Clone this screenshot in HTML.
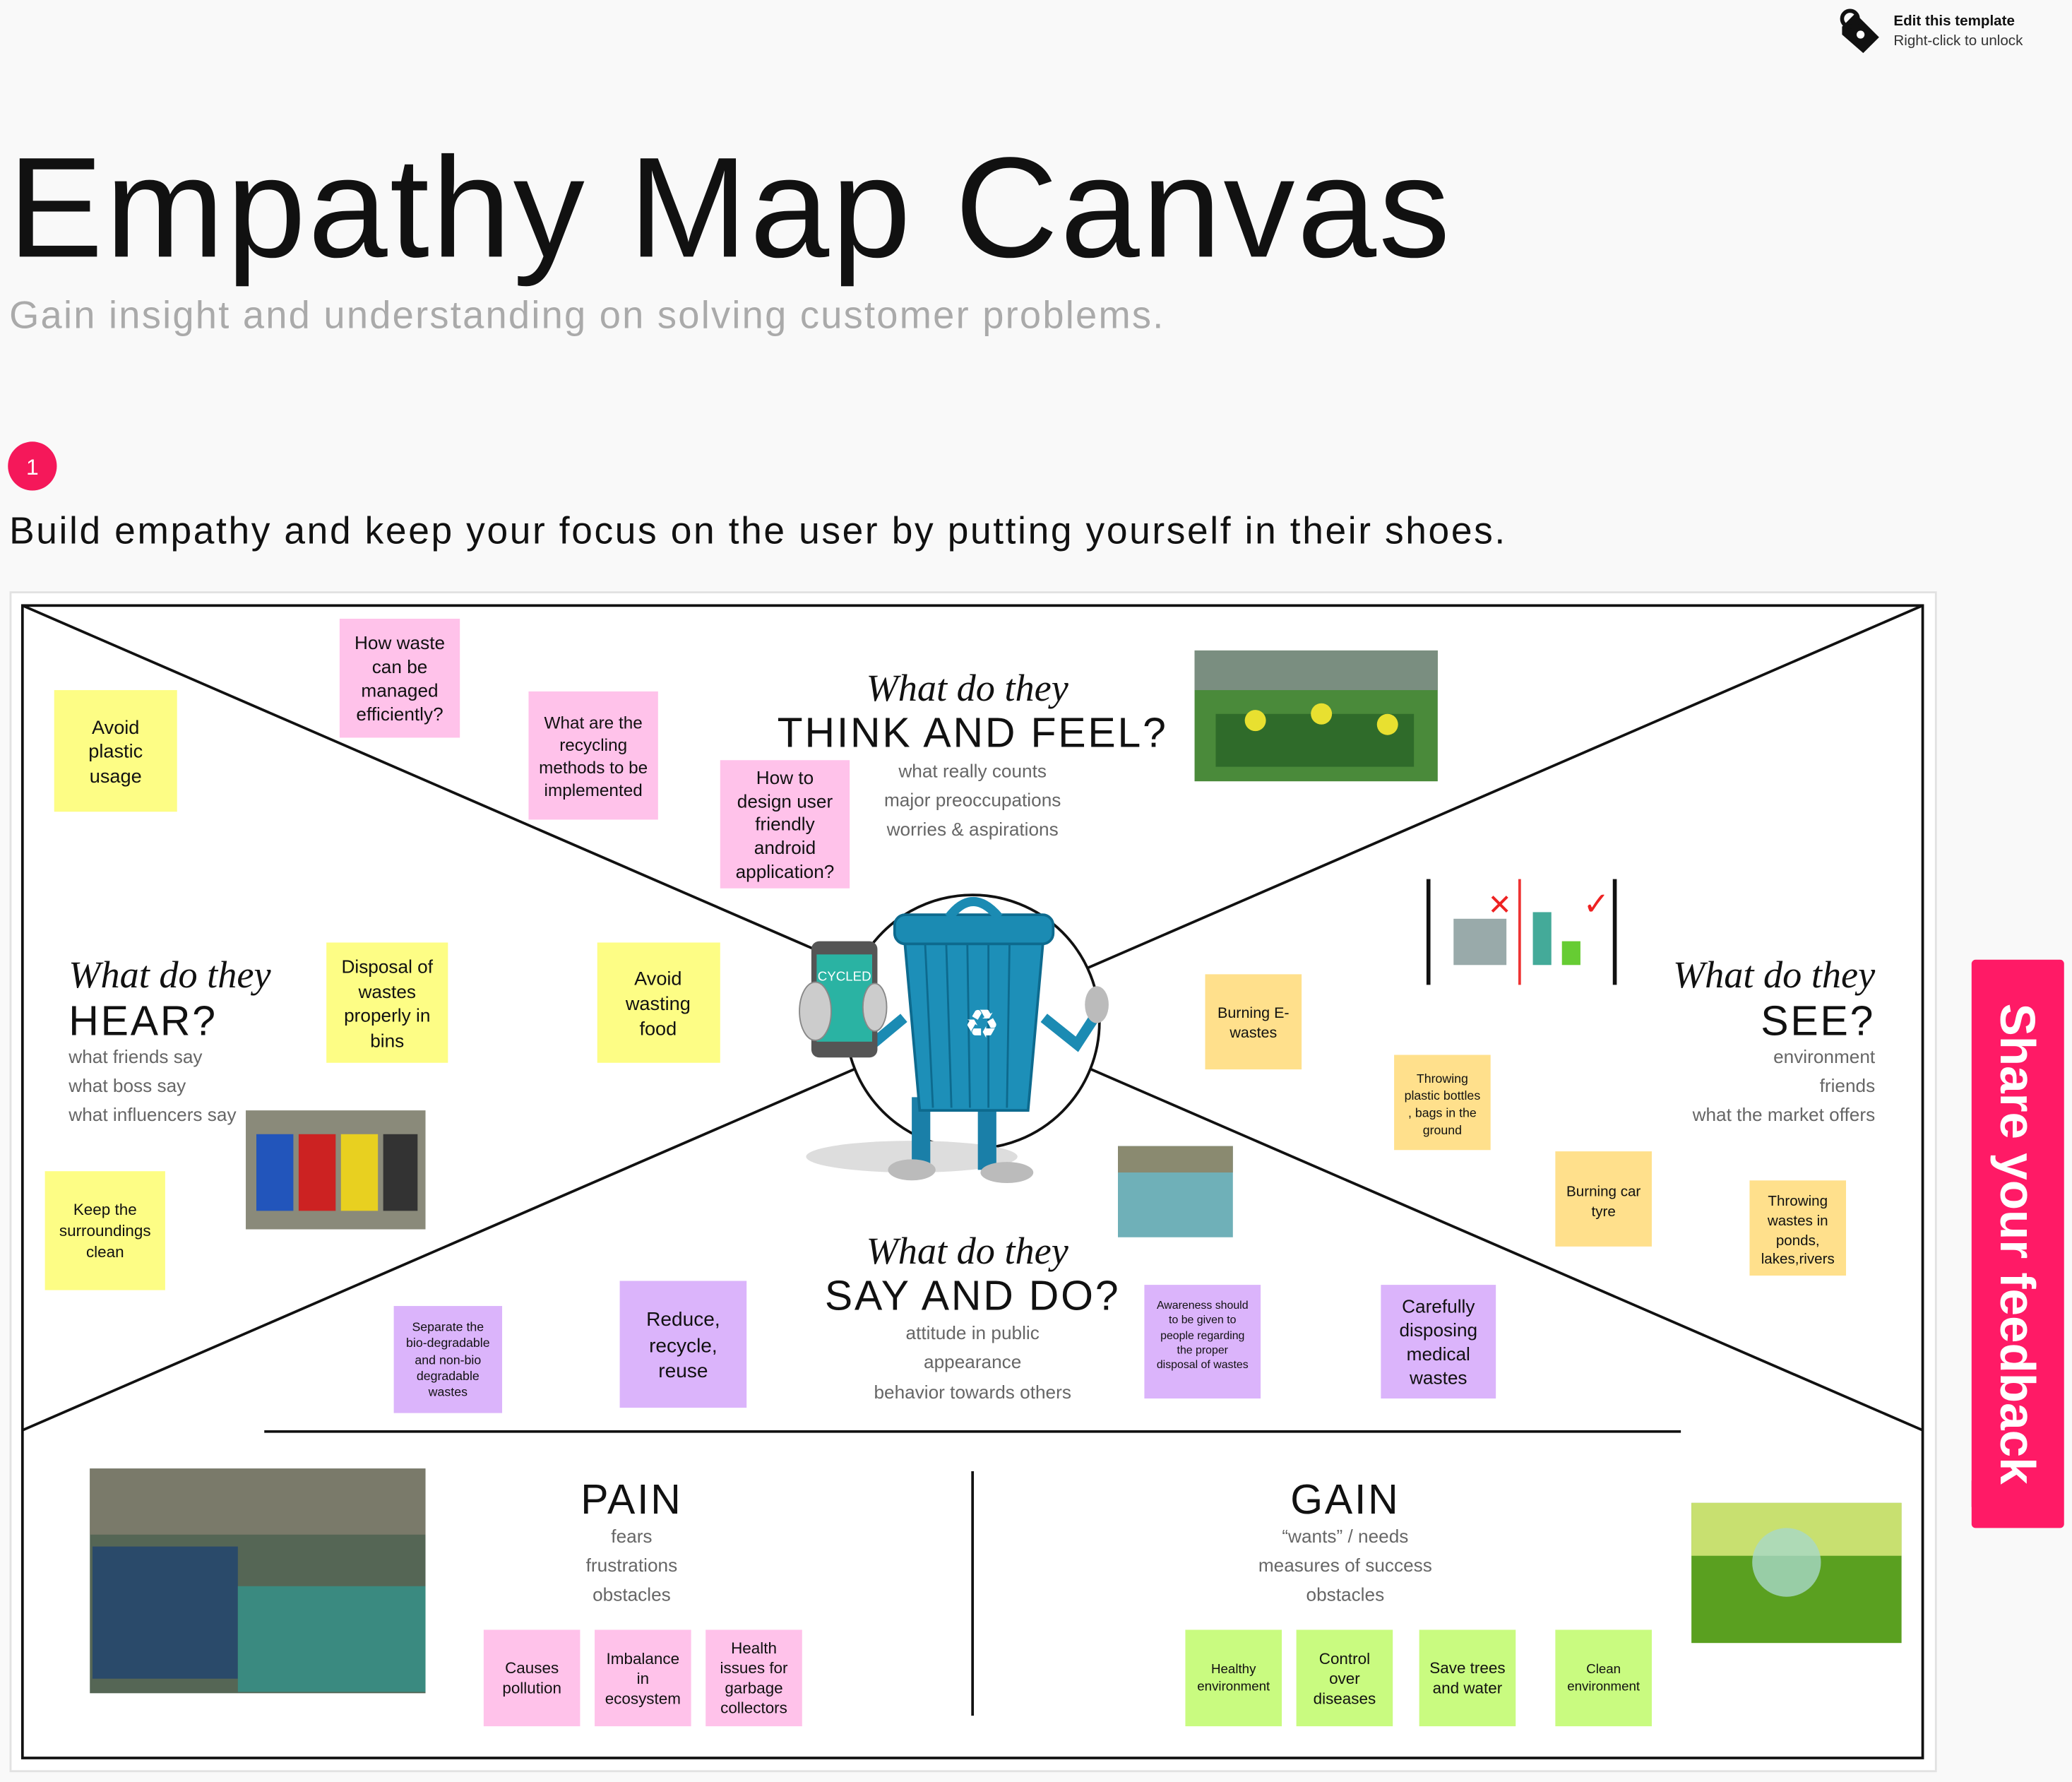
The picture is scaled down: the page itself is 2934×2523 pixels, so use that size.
<!DOCTYPE html>
<html><head><meta charset="utf-8">
<style>
html,body{margin:0;padding:0;background:#f9f9f9;}
body{width:2934px;height:2523px;overflow:hidden;}
svg{display:block;}
text{font-family:"Liberation Sans",sans-serif;}
.st{font-family:"Liberation Sans",sans-serif;fill:#111;text-anchor:middle;}
.sub{font-size:14px;fill:#666;}
.scr{font-family:"Liberation Serif",serif;font-style:italic;font-size:29px;fill:#111;}
.big{font-size:31.5px;fill:#111;letter-spacing:1.5px;}
</style></head>
<body>
<svg width="2934" height="2523" viewBox="0 0 1568 1348" xmlns="http://www.w3.org/2000/svg">
<rect x="0" y="0" width="1568" height="1348" fill="#f9f9f9"/>
<!-- lock -->
<g transform="translate(1390,6)">
<path d="M4 14 L14 4 L24 14 L32 22 L20 34 L4 20 Z" fill="#111"/>
<circle cx="10" cy="8" r="6" fill="none" stroke="#111" stroke-width="3"/>
<circle cx="18" cy="20" r="3" fill="#fff"/>
</g>
<text x="1433" y="19" font-size="11" font-weight="bold" fill="#111">Edit this template</text>
<text x="1433" y="34" font-size="11" fill="#333">Right-click to unlock</text>

<text x="6" y="194" font-size="108" fill="#111" letter-spacing="1.7">Empathy Map Canvas</text>
<text x="7" y="248" font-size="29" fill="#aaa" letter-spacing="1.2">Gain insight and understanding on solving customer problems.</text>
<circle cx="24.5" cy="352.5" r="18.5" fill="#f5185a"/>
<text x="24.5" y="359" font-size="17" fill="#fff" text-anchor="middle">1</text>
<text x="7" y="411" font-size="28.5" fill="#111" letter-spacing="1.4">Build empathy and keep your focus on the user by putting yourself in their shoes.</text>

<!-- panel -->
<rect x="8" y="448" width="1457" height="892" fill="#fff" stroke="#e2e2e2" stroke-width="1.5"/>
<rect x="17" y="458" width="1438" height="872" fill="#fff" stroke="#111" stroke-width="2"/>
<line x1="17" y1="458" x2="1455" y2="1082" stroke="#111" stroke-width="2"/>
<line x1="1455" y1="458" x2="17" y2="1082" stroke="#111" stroke-width="2"/>
<line x1="200" y1="1083" x2="1272" y2="1083" stroke="#111" stroke-width="2"/>
<line x1="736" y1="1113" x2="736" y2="1298" stroke="#111" stroke-width="2"/>
<circle cx="736" cy="773" r="96" fill="#fff" stroke="#111" stroke-width="2"/>

<!-- mascot -->
<ellipse cx="690" cy="875" rx="80" ry="12" fill="#ddd"/>
<rect x="690" y="830" width="14" height="55" fill="#1a7fa8"/><rect x="740" y="830" width="14" height="55" fill="#1a7fa8"/>
<ellipse cx="690" cy="885" rx="18" ry="8" fill="#bbb"/><ellipse cx="762" cy="887" rx="20" ry="8" fill="#bbb"/>
<path d="M684 705 L790 705 L778 840 L696 840 Z" fill="#1d8fb8" stroke="#0d6a8e" stroke-width="2"/>
<g stroke="#0d6a8e" stroke-width="1.5"><line x1="700" y1="712" x2="706" y2="838"/><line x1="716" y1="712" x2="720" y2="838"/><line x1="732" y1="712" x2="734" y2="838"/><line x1="748" y1="712" x2="748" y2="838"/><line x1="764" y1="712" x2="762" y2="838"/></g>
<rect x="677" y="692" width="120" height="22" rx="8" fill="#1b8bb3" stroke="#0d6a8e" stroke-width="2"/>
<path d="M718 694 Q736 670 756 694" fill="none" stroke="#1b8bb3" stroke-width="7"/>
<text x="743" y="785" font-size="30" fill="#fff" text-anchor="middle">♻</text>
<path d="M790 770 L815 790 L828 770" fill="none" stroke="#1b8bb3" stroke-width="8"/>
<ellipse cx="830" cy="760" rx="9" ry="14" fill="#bbb"/>
<path d="M684 770 L660 790" stroke="#1b8bb3" stroke-width="8"/>
<rect x="614" y="712" width="50" height="88" rx="6" fill="#555"/>
<rect x="618" y="722" width="42" height="66" fill="#2ab3a3"/>
<text x="639" y="742" font-size="10" fill="#fff" text-anchor="middle">CYCLED</text>
<ellipse cx="617" cy="765" rx="12" ry="22" fill="#ccc" stroke="#888"/>
<ellipse cx="662" cy="762" rx="9" ry="18" fill="#ccc" stroke="#888"/>

<!-- images -->
<rect x="904" y="492" width="184" height="99" fill="#4a8a3a"/>
<rect x="904" y="492" width="184" height="30" fill="#7a8e80"/>
<rect x="920" y="540" width="150" height="40" fill="#2f6b2a"/>
<circle cx="950" cy="545" r="8" fill="#e8e030"/><circle cx="1000" cy="540" r="8" fill="#e8e030"/><circle cx="1050" cy="548" r="8" fill="#e8e030"/>
<line x1="1081" y1="665" x2="1081" y2="745" stroke="#111" stroke-width="3"/>
<line x1="1150" y1="665" x2="1150" y2="745" stroke="#e33" stroke-width="2"/>
<line x1="1222" y1="665" x2="1222" y2="745" stroke="#111" stroke-width="3"/>
<text x="1135" y="692" font-size="22" fill="#e22" text-anchor="middle">✕</text>
<text x="1208" y="692" font-size="24" fill="#e22" text-anchor="middle">✓</text>
<rect x="1100" y="695" width="40" height="35" fill="#9aa"/><rect x="1160" y="690" width="14" height="40" fill="#4a9"/><rect x="1182" y="712" width="14" height="18" fill="#6c3"/>
<rect x="186" y="840" width="136" height="90" fill="#8a8a7a"/>
<rect x="194" y="858" width="28" height="58" fill="#2255bb"/><rect x="226" y="858" width="28" height="58" fill="#cc2222"/><rect x="258" y="858" width="28" height="58" fill="#e8d020"/><rect x="290" y="858" width="26" height="58" fill="#333"/>
<rect x="846" y="867" width="87" height="69" fill="#6fb0b8"/><rect x="846" y="867" width="87" height="20" fill="#8a8a70"/>
<rect x="68" y="1111" width="254" height="170" fill="#556655"/>
<rect x="68" y="1111" width="254" height="50" fill="#7a7a6a"/>
<rect x="70" y="1170" width="110" height="100" fill="#2a4a6a"/>
<rect x="180" y="1200" width="142" height="80" fill="#3a8a80"/>
<rect x="1280" y="1137" width="159" height="106" fill="#5aa020"/>
<rect x="1280" y="1137" width="159" height="40" fill="#c8e070"/>
<circle cx="1352" cy="1182" r="26" fill="#a8d8c8" opacity="0.8"/>

<!-- sticky notes -->
<g>
<rect x="41" y="522" width="93" height="92" fill="#fdfd85"/>
<text class="st" font-size="14.5"><tspan x="87.5" y="555">Avoid</tspan><tspan x="87.5" y="573">plastic</tspan><tspan x="87.5" y="592">usage</tspan></text>
<rect x="257" y="468" width="91" height="90" fill="#ffc2ea"/>
<text class="st" font-size="14"><tspan x="302.5" y="491">How waste</tspan><tspan x="302.5" y="509">can be</tspan><tspan x="302.5" y="527">managed</tspan><tspan x="302.5" y="545">efficiently?</tspan></text>
<rect x="400" y="523" width="98" height="97" fill="#ffc2ea"/>
<text class="st" font-size="13"><tspan x="449" y="551">What are the</tspan><tspan x="449" y="568">recycling</tspan><tspan x="449" y="585">methods to be</tspan><tspan x="449" y="602">implemented</tspan></text>
<rect x="545" y="575" width="98" height="97" fill="#ffc2ea"/>
<text class="st" font-size="14"><tspan x="594" y="593">How to</tspan><tspan x="594" y="611">design user</tspan><tspan x="594" y="628">friendly</tspan><tspan x="594" y="646">android</tspan><tspan x="594" y="664">application?</tspan></text>
<rect x="247" y="713" width="92" height="91" fill="#fdfd85"/>
<text class="st" font-size="14"><tspan x="293" y="736">Disposal of</tspan><tspan x="293" y="755">wastes</tspan><tspan x="293" y="773">properly in</tspan><tspan x="293" y="792">bins</tspan></text>
<rect x="452" y="713" width="93" height="91" fill="#fdfd85"/>
<text class="st" font-size="14.5"><tspan x="498" y="745">Avoid</tspan><tspan x="498" y="764">wasting</tspan><tspan x="498" y="783">food</tspan></text>
<rect x="34" y="886" width="91" height="90" fill="#fdfd85"/>
<text class="st" font-size="12"><tspan x="79.5" y="919">Keep the</tspan><tspan x="79.5" y="935">surroundings</tspan><tspan x="79.5" y="951">clean</tspan></text>
<rect x="912" y="737" width="73" height="72" fill="#ffe08c"/>
<text class="st" font-size="11.5"><tspan x="948.5" y="770">Burning E-</tspan><tspan x="948.5" y="785">wastes</tspan></text>
<rect x="1055" y="798" width="73" height="72" fill="#ffe08c"/>
<text class="st" font-size="9.5"><tspan x="1091.5" y="819">Throwing</tspan><tspan x="1091.5" y="832">plastic bottles</tspan><tspan x="1091.5" y="845">, bags in the</tspan><tspan x="1091.5" y="858">ground</tspan></text>
<rect x="1177" y="871" width="73" height="72" fill="#ffe08c"/>
<text class="st" font-size="11"><tspan x="1213.5" y="905">Burning car</tspan><tspan x="1213.5" y="920">tyre</tspan></text>
<rect x="1324" y="893" width="73" height="72" fill="#ffe08c"/>
<text class="st" font-size="11"><tspan x="1360.5" y="912">Throwing</tspan><tspan x="1360.5" y="927">wastes in</tspan><tspan x="1360.5" y="942">ponds,</tspan><tspan x="1360.5" y="956">lakes,rivers</tspan></text>
<rect x="298" y="988" width="82" height="81" fill="#dbb4fb"/>
<text class="st" font-size="9.5"><tspan x="339" y="1007">Separate the</tspan><tspan x="339" y="1019">bio-degradable</tspan><tspan x="339" y="1032">and non-bio</tspan><tspan x="339" y="1044">degradable</tspan><tspan x="339" y="1056">wastes</tspan></text>
<rect x="469" y="969" width="96" height="96" fill="#dbb4fb"/>
<text class="st" font-size="15"><tspan x="517" y="1003">Reduce,</tspan><tspan x="517" y="1023">recycle,</tspan><tspan x="517" y="1042">reuse</tspan></text>
<rect x="866" y="972" width="88" height="86" fill="#dbb4fb"/>
<text class="st" font-size="8.5"><tspan x="910" y="990">Awareness should</tspan><tspan x="910" y="1001">to be given to</tspan><tspan x="910" y="1013">people regarding</tspan><tspan x="910" y="1024">the proper</tspan><tspan x="910" y="1035">disposal of wastes</tspan></text>
<rect x="1045" y="972" width="87" height="86" fill="#dbb4fb"/>
<text class="st" font-size="14"><tspan x="1088.5" y="993">Carefully</tspan><tspan x="1088.5" y="1011">disposing</tspan><tspan x="1088.5" y="1029">medical</tspan><tspan x="1088.5" y="1047">wastes</tspan></text>
<rect x="366" y="1233" width="73" height="73" fill="#ffc2ea"/>
<text class="st" font-size="12"><tspan x="402.5" y="1266">Causes</tspan><tspan x="402.5" y="1281">pollution</tspan></text>
<rect x="450" y="1233" width="73" height="73" fill="#ffc2ea"/>
<text class="st" font-size="12"><tspan x="486.5" y="1259">Imbalance</tspan><tspan x="486.5" y="1274">in</tspan><tspan x="486.5" y="1289">ecosystem</tspan></text>
<rect x="534" y="1233" width="73" height="73" fill="#ffc2ea"/>
<text class="st" font-size="12"><tspan x="570.5" y="1251">Health</tspan><tspan x="570.5" y="1266">issues for</tspan><tspan x="570.5" y="1281">garbage</tspan><tspan x="570.5" y="1296">collectors</tspan></text>
<rect x="897" y="1233" width="73" height="73" fill="#c9fb80"/>
<text class="st" font-size="10"><tspan x="933.5" y="1266">Healthy</tspan><tspan x="933.5" y="1279">environment</tspan></text>
<rect x="981" y="1233" width="73" height="73" fill="#c9fb80"/>
<text class="st" font-size="12"><tspan x="1017.5" y="1259">Control</tspan><tspan x="1017.5" y="1274">over</tspan><tspan x="1017.5" y="1289">diseases</tspan></text>
<rect x="1074" y="1233" width="73" height="73" fill="#c9fb80"/>
<text class="st" font-size="12"><tspan x="1110.5" y="1266">Save trees</tspan><tspan x="1110.5" y="1281">and water</tspan></text>
<rect x="1177" y="1233" width="73" height="73" fill="#c9fb80"/>
<text class="st" font-size="10"><tspan x="1213.5" y="1266">Clean</tspan><tspan x="1213.5" y="1279">environment</tspan></text>
</g>

<!-- section labels -->
<text class="scr" x="732" y="530" text-anchor="middle">What do they</text>
<text class="big" x="736" y="565" text-anchor="middle">THINK AND FEEL?</text>
<text class="sub" x="736" y="588" text-anchor="middle">what really counts</text>
<text class="sub" x="736" y="610" text-anchor="middle">major preoccupations</text>
<text class="sub" x="736" y="632" text-anchor="middle">worries &amp; aspirations</text>

<text class="scr" x="52" y="747">What do they</text>
<text class="big" x="52" y="783">HEAR?</text>
<text class="sub" x="52" y="804">what friends say</text>
<text class="sub" x="52" y="826">what boss say</text>
<text class="sub" x="52" y="848">what influencers say</text>

<text class="scr" x="1419" y="747" text-anchor="end">What do they</text>
<text class="big" x="1419" y="783" text-anchor="end">SEE?</text>
<text class="sub" x="1419" y="804" text-anchor="end">environment</text>
<text class="sub" x="1419" y="826" text-anchor="end">friends</text>
<text class="sub" x="1419" y="848" text-anchor="end">what the market offers</text>

<text class="scr" x="732" y="956" text-anchor="middle">What do they</text>
<text class="big" x="736" y="991" text-anchor="middle">SAY AND DO?</text>
<text class="sub" x="736" y="1013" text-anchor="middle">attitude in public</text>
<text class="sub" x="736" y="1035" text-anchor="middle">appearance</text>
<text class="sub" x="736" y="1058" text-anchor="middle">behavior towards others</text>

<text class="big" x="478" y="1145" text-anchor="middle" font-size="33">PAIN</text>
<text class="sub" x="478" y="1167" text-anchor="middle">fears</text>
<text class="sub" x="478" y="1189" text-anchor="middle">frustrations</text>
<text class="sub" x="478" y="1211" text-anchor="middle">obstacles</text>

<text class="big" x="1018" y="1145" text-anchor="middle" font-size="33">GAIN</text>
<text class="sub" x="1018" y="1167" text-anchor="middle">“wants” / needs</text>
<text class="sub" x="1018" y="1189" text-anchor="middle">measures of success</text>
<text class="sub" x="1018" y="1211" text-anchor="middle">obstacles</text>

<!-- feedback tab -->
<path d="M1492 1120 L1492 1140 L1512 1156 Z" fill="#c0104a"/>
<rect x="1492" y="726" width="70" height="430" rx="3" fill="#ff1a66"/>
<text x="0" y="0" font-size="37" font-weight="bold" fill="#fff" text-anchor="middle" transform="translate(1514,941) rotate(90)">Share your feedback</text>
</svg>
</body></html>
